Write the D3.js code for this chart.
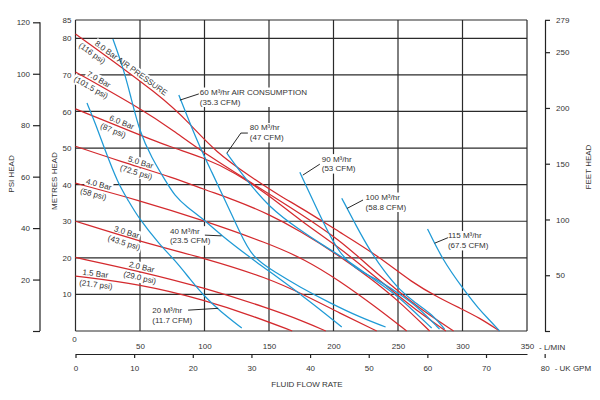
<!DOCTYPE html>
<html><head><meta charset="utf-8">
<script src="https://cdn.jsdelivr.net/npm/d3@7"></script>
<style>
body{margin:0;background:#fff;}
svg{font-family:"Liberation Sans",Arial,Helvetica,sans-serif;}
</style></head><body>
<svg id="c" width="600" height="400"></svg>
<script>
// ---------- data ----------
const flowTicks = [50,100,150,200,250,300,350];
const headTicks = [10,20,30,40,50,60,70,80,85];
const psiTicks = [0,20,40,60,80,100,120];
const feetTicks = [0,50,100,150,200,250,279];
const gpmTicks = [0,10,20,30,40,50,60,70,80];

const pressureNames = ["8.0 Bar AIR PRESSURE","7.0 Bar","6.0 Bar","5.0 Bar","4.0 Bar","3.0 Bar","2.0 Bar","1.5 Bar"];
const pressurePsi = ["(116 psi)","(101.5 psi)","(87 psi)","(72.5 psi)","(58 psi)","(43.5 psi)","(29.0 psi)","(21.7 psi)"];

// pressure curves: [flow L/min, head m]
const bar80 = [[0,81.2],[67.8,63.9],[88.7,56.6],[108.8,48.9],[135.1,42.3],[158.4,36.9],[173.9,33.9],[204.8,27.0],[233.5,20.8],[261.3,13.1],[282.2,9.0],[297.7,6.3],[313.2,3.6],[328.7,0]];
const bar70 = [[0,70.8],[52.3,60.4],[75.5,54.9],[101.8,48.1],[142.8,39.1],[173.8,32.2],[204.8,24.9],[228,17.5],[249.7,11.0],[270,5.3],[293.1,0]];
const bar60 = [[0,60.7],[48.4,53.8],[73.2,50.3],[98.7,47.5],[123.5,43.4],[150.6,36.9],[173.8,30.3],[204.8,22.7],[228,16.1],[249.7,9.8],[266.7,5.0],[287.1,0]];
const bar50 = [[0,50.5],[34.5,46.4],[77,41.8],[98.7,38.8],[123.5,35.8],[150.6,31.8],[173.8,27.4],[204.8,20.5],[228,14.6],[249.7,8.5],[274.5,0]];
const bar40 = [[0,40.4],[48.4,35.8],[98.7,30.3],[149.1,24.0],[177.7,19.6],[204.8,13.7],[231.9,6.8],[256.7,0]];
const bar30 = [[0,30],[51.5,24.3],[100.3,19.9],[149.1,14.5],[177.7,9.8],[204.8,4.9],[233.5,0]];
const bar20 = [[0,20.1],[50,16.3],[100,11.8],[149,6.3],[178,2.5],[194,0]];
const bar15 = [[0,15],[50,12.8],[100,8.5],[140,3.8],[168,0]];

const airNames = ["20 M³/hr","40 M³/hr","60 M³/hr AIR CONSUMPTION","80 M³/hr","90 M³/hr","100 M³/hr","115 M³/hr"];
const airCfm = ["(11.7 CFM)","(23.5 CFM)","(35.3 CFM)","(47 CFM)","(53 CFM)","(58.8 CFM)","(67.5 CFM)"];

// air consumption curves: [flow L/min, head m]
const air20 = [[8.9,62.3],[15.9,56.3],[22.8,49.5],[32.9,40.4],[40.7,35.8],[48.4,31.1],[65.4,23.5],[77,19.4],[88.7,14.2],[100.3,9.3],[111.9,5.5],[128.9,0.8]];
const air40 = [[29.0,79.8],[36.8,72.1],[42.2,65.0],[49.9,54.1],[59.2,47.3],[69.3,41.3],[77.0,36.9],[86.3,33.9],[98.0,30.9],[113.4,26.0],[136.7,19.7],[177.7,9.3],[206.4,1.1]];
const air60 = [[80.1,64.5],[88.7,56.8],[96.4,50.3],[105.7,43.4],[115.8,35.8],[127.4,27.0],[136.7,20.2],[154.5,16.1],[173.9,12.0],[197.1,7.7],[220.3,3.8],[240.4,1.1]];
const air80 = [[117.3,48.6],[131.3,41.8],[150.6,33.6],[173.9,27.6],[189.4,24.0],[212.6,18.9],[232.0,13.9],[249.7,9.6],[262.9,5.2],[276.1,0.8]];
const air90 = [[173.9,43.4],[187.8,32.8],[202.5,22.1],[216.4,17.0],[232.0,14.5],[249.7,10.5],[266.7,6.2],[282.2,0.5]];
const air100 = [[206.4,36.3],[217.2,29.0],[228.0,22.1],[239.7,16.1],[251.3,11.2],[262.9,7.8],[276.8,4.5],[286.1,0.5]];
const air115 = [[272.9,27.9],[284.6,19.4],[300.1,11.7],[313.3,5.7],[321.0,3.0],[328.7,0]];

const pressureCurves = [bar80,bar70,bar60,bar50,bar40,bar30,bar20,bar15];
const airCurves = [air20,air40,air60,air80,air90,air100,air115];

// ---------- annotation placement ----------
// flow (L/min) where each pressure name / psi label starts along its curve
const nameFlow = [13.5,7.4,25.2,39.9,7.4,29.0,40.7,5.0];
const psiFlow  = [6.0,1.5,21.3,36.0,5.0,26.7,38.3,3.5];
const airAt = [[59.5,4.8],[73.2,26.6],[96.4,64.5],[135.1,54.8],[190.9,46.3],[224.9,35.8],[288.7,25.3]];
const leaders = [
  [[87.3,5.7],[110.6,6.2]],
  [[100.3,26.2],[113.2,26.0]],
  [[80.9,63.1],[95.6,64.8]],
  [[117.3,48.6],[128.2,54.1],[133.6,54.1]],
  [[176.2,42.6],[189.4,45.6]],
  [[210.5,33.5],[222.9,35.8]],
  [[278.4,24.0],[288.7,25.5]]
];

// ---------- drawing ----------
const RED = "#d42a2e", BLUE = "#1f9ad6", GRID = "#2b2b2b", TXT = "#333";
const FS = 8;
const svg = d3.select("#c");
const x = d3.scaleLinear().domain([0,350]).range([75.5,527]);
const y = d3.scaleLinear().domain([0,85]).range([331,20]);
const psi = d3.scaleLinear().domain([0,85*1.42233]).range([331,20]);
const feet = d3.scaleLinear().domain([0,85*3.28084]).range([331,20]);
const gpm = d3.scaleLinear().domain([0,350/4.54609]).range([75.5,527]);

// grid
const grid = svg.append("g").attr("stroke",GRID).attr("stroke-width",1.2);
grid.selectAll("line.h").data([0,...headTicks]).join("line").attr("class","h")
  .attr("x1",x(0)).attr("x2",x(350)).attr("y1",d=>y(d)).attr("y2",d=>y(d));
grid.selectAll("line.v").data([0,...flowTicks]).join("line").attr("class","v")
  .attr("y1",y(0)).attr("y2",y(85)).attr("x1",d=>x(d)).attr("x2",d=>x(d));

const bgLayer = svg.append("g");
const curveLayer = svg.append("g");
const textLayer = svg.append("g").attr("font-size",FS).attr("fill",TXT);

function addLabel(lines, px, py, angle, lh){
  const tr = `translate(${px},${py}) rotate(${angle})`;
  const g = textLayer.append("g").attr("transform",tr);
  const t = g.append("text");
  lines.forEach((s,i)=>t.append("tspan").attr("x",0).attr("y",i*lh).text(s));
  const b = t.node().getBBox();
  bgLayer.append("rect").attr("transform",tr)
    .attr("x",b.x-1).attr("y",b.y-0.5).attr("width",b.width+2).attr("height",b.height+1).attr("fill","#fff");
}
function headAt(curve,f){
  for(let i=0;i<curve.length-1;i++){
    const a=curve[i],b=curve[i+1];
    if(f>=a[0]&&f<=b[0]) return a[1]+(b[1]-a[1])*(f-a[0])/(b[0]-a[0]);
  }
  return curve[curve.length-1][1];
}
function placeOnCurve(curve,f,text,above){
  const x0=x(f), y0=y(headAt(curve,f)), x1=x(f+22), y1=y(headAt(curve,f+22));
  const a=Math.atan2(y1-y0,x1-x0), deg=a*180/Math.PI;
  const d = above ? 2.2 : -8.6;
  addLabel([text], x0 + d*Math.sin(a), y0 - d*Math.cos(a), deg, 0);
}
pressureCurves.forEach((c,i)=>{
  placeOnCurve(c,nameFlow[i],pressureNames[i],true);
  placeOnCurve(c,psiFlow[i],pressurePsi[i],false);
});
airNames.forEach((s,i)=>addLabel([s,airCfm[i]],x(airAt[i][0]),y(airAt[i][1]),0,9.5));

// curves
const line = d3.line().x(d=>x(d[0])).y(d=>y(d[1])).curve(d3.curveBasis);
curveLayer.selectAll("path.p").data(pressureCurves).join("path").attr("class","p")
  .attr("d",line).attr("fill","none").attr("stroke",RED).attr("stroke-width",1.25);
curveLayer.selectAll("path.a").data(airCurves).join("path").attr("class","a")
  .attr("d",line).attr("fill","none").attr("stroke",BLUE).attr("stroke-width",1.25);
const lline = d3.line().x(d=>x(d[0])).y(d=>y(d[1]));
curveLayer.selectAll("path.l").data(leaders).join("path").attr("class","l")
  .attr("d",lline).attr("fill","none").attr("stroke","#111").attr("stroke-width",0.9);

// metres axis (labels only)
const mAxis = svg.append("g").attr("transform",`translate(${x(0)},0)`)
  .call(d3.axisLeft(y).tickValues(headTicks).tickSize(0).tickPadding(4));
mAxis.select(".domain").remove();
mAxis.selectAll("text").attr("font-size",FS).attr("fill",TXT).attr("font-family",null);

// psi axis
const pAxis = svg.append("g").attr("transform","translate(40,0)")
  .call(d3.axisLeft(psi).tickValues(psiTicks).tickSize(7).tickPadding(3).tickFormat(d=>d===0?"":d));
pAxis.select(".domain").remove();
pAxis.selectAll("line").attr("stroke","#222").attr("stroke-width",1.2);
pAxis.selectAll("text").attr("font-size",FS).attr("fill",TXT).attr("font-family",null);
pAxis.append("line").attr("x1",0).attr("x2",0).attr("y1",psi(0)).attr("y2",psi(120)).attr("stroke","#222").attr("stroke-width",1.2);

// feet axis
const fAxis = svg.append("g").attr("transform","translate(545,0)")
  .call(d3.axisRight(feet).tickValues(feetTicks).tickSize(5).tickSizeOuter(0).tickPadding(6).tickFormat(d=>d===0?"":d));
fAxis.select(".domain").attr("stroke","#222").attr("stroke-width",1.2);
fAxis.selectAll("line").attr("stroke","#222").attr("stroke-width",1.2);
fAxis.selectAll("text").attr("font-size",FS).attr("fill",TXT).attr("font-family",null);

// L/min axis labels
const lAxis = svg.append("g").attr("transform",`translate(0,${y(0)})`)
  .call(d3.axisBottom(x).tickValues(flowTicks).tickSize(0).tickPadding(12));
lAxis.select(".domain").remove();
lAxis.selectAll("text").attr("font-size",FS).attr("fill",TXT).attr("font-family",null);
svg.append("text").attr("x",x(0)-1).attr("y",y(0)+11).attr("text-anchor","middle")
  .attr("font-size",FS).attr("fill",TXT).text("0");
svg.append("text").attr("x",x(350)+12).attr("y",y(0)+18.5).attr("font-size",FS).attr("fill",TXT).text("- L/MIN");

// UK GPM axis
const gAxis = svg.append("g").attr("transform","translate(0,354)")
  .call(d3.axisBottom(gpm).tickValues(gpmTicks).tickSize(4).tickSizeOuter(0).tickPadding(7));
gAxis.select(".domain").attr("stroke","#222").attr("stroke-width",1.2);
gAxis.selectAll("line").attr("stroke","#222").attr("stroke-width",1.2);
gAxis.selectAll("text").attr("font-size",FS).attr("fill",TXT).attr("font-family",null);
svg.append("text").attr("x",gpm(80)+10).attr("y",370.5).attr("font-size",FS).attr("fill",TXT).text("- UK GPM");

// axis titles
svg.append("text").attr("x",307).attr("y",387).attr("text-anchor","middle").attr("font-size",FS).attr("fill",TXT).text("FLUID FLOW RATE");
svg.append("text").attr("transform","translate(14,174) rotate(-90)").attr("text-anchor","middle").attr("font-size",FS).attr("fill",TXT).text("PSI HEAD");
svg.append("text").attr("transform","translate(57,181) rotate(-90)").attr("text-anchor","middle").attr("font-size",FS).attr("fill",TXT).text("METRES HEAD");
svg.append("text").attr("transform","translate(591,167) rotate(-90)").attr("text-anchor","middle").attr("font-size",FS).attr("fill",TXT).text("FEET HEAD");
</script>
</body></html>
